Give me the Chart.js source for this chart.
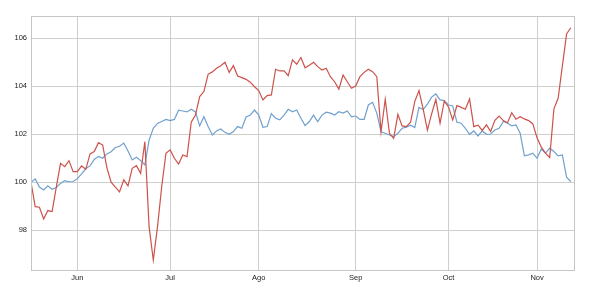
<!DOCTYPE html>
<html>
<head>
<meta charset="utf-8">
<script src="https://cdn.jsdelivr.net/npm/chart.js@4/dist/chart.umd.min.js"></script>
<style>
  html, body { margin: 0; padding: 0; background: #ffffff; }
  #wrap { width: 616px; height: 293px; }
</style>
</head>
<body>
<div id="wrap"><canvas id="c" width="616" height="293"></canvas></div>
<script>
// Month tick labels and the trading-day index where each month starts
const monthLabels = ['Jun', 'Jul', 'Ago', 'Sep', 'Oct', 'Nov'];
const monthIndex  = [11, 33, 54, 77, 99, 120];

// Y-axis tick values
const yTicks = [98, 100, 102, 104, 106];

// Series (one value per trading day)
const redSeries = [
  100.0, 98.98, 98.96, 98.47, 98.82, 98.78, 99.8, 100.79, 100.65, 100.9,
  100.44, 100.44, 100.68, 100.54, 101.18, 101.28, 101.65, 101.55, 100.6, 100.0,
  99.8, 99.6, 100.1, 99.85, 100.58, 100.69, 100.37, 101.69, 98.15, 96.76,
  98.15, 99.82, 101.21, 101.35, 101.0, 100.76, 101.14, 101.07, 102.5, 102.8,
  103.57, 103.78, 104.5, 104.6, 104.75, 104.86, 105.0, 104.58, 104.86, 104.43,
  104.36, 104.29, 104.17, 103.98, 103.82, 103.43, 103.61, 103.64, 104.71, 104.64,
  104.64, 104.44, 105.1, 104.92, 105.2, 104.77, 104.88, 105.0, 104.82, 104.68,
  104.75, 104.4, 104.19, 103.88, 104.47, 104.19, 103.92, 104.01, 104.4, 104.58,
  104.71, 104.61, 104.4, 102.1, 103.46, 102.04, 101.83, 102.83, 102.35, 102.32,
  102.5, 103.36, 103.82, 103.05, 102.17, 102.85, 103.45, 102.46, 103.38, 103.14,
  102.6, 103.2, 103.12, 103.04, 103.47, 102.32, 102.38, 102.16, 102.39, 102.12,
  102.58, 102.76, 102.57, 102.48, 102.9, 102.63, 102.73, 102.64, 102.57, 102.43,
  101.85, 101.46, 101.21, 101.03, 103.06, 103.5, 104.84, 106.18, 106.44
];

const blueSeries = [
  100.0, 100.14, 99.8, 99.68, 99.85, 99.71, 99.78, 99.95, 100.07, 100.02,
  100.03, 100.15, 100.35, 100.57, 100.68, 100.95, 101.08, 101.0, 101.18, 101.27,
  101.45, 101.5, 101.63, 101.3, 100.93, 101.04, 100.9, 100.72, 101.75, 102.25,
  102.45, 102.53, 102.62, 102.57, 102.62, 103.0, 102.97, 102.93, 103.04, 102.93,
  102.35, 102.73, 102.32, 101.97, 102.14, 102.22, 102.08, 102.0, 102.11, 102.32,
  102.25, 102.72, 102.8, 103.01, 102.8, 102.29, 102.32, 102.86, 102.67, 102.6,
  102.8, 103.04, 102.94, 103.01, 102.67, 102.36, 102.53, 102.8, 102.53, 102.8,
  102.92, 102.88, 102.8, 102.94, 102.88, 102.97, 102.73, 102.76, 102.62, 102.62,
  103.22, 103.33, 102.88, 102.1, 102.04, 101.97, 101.9, 102.04, 102.25, 102.3,
  102.38, 102.28, 103.12, 103.03, 103.26, 103.55, 103.68, 103.43, 103.4, 103.22,
  103.18, 102.5, 102.46, 102.25, 102.0, 102.14, 101.93, 102.14, 102.0, 102.01,
  102.18, 102.25, 102.53, 102.46, 102.35, 102.39, 102.04, 101.1, 101.14, 101.21,
  101.0, 101.38, 101.21, 101.42, 101.28, 101.1, 101.14, 100.21, 100.03
];

const GRID = '#cdcfcd';
const FRAME = '#c4c6c4';

const framePlugin = {
  id: 'frame',
  afterDraw(chart) {
    const a = chart.chartArea;
    const ctx = chart.ctx;
    ctx.save();
    ctx.strokeStyle = FRAME;
    ctx.lineWidth = 1;
    const l = Math.round(a.left) + 0.5, t = Math.round(a.top) + 0.5;
    const r = Math.round(a.right) - 0.5, b = Math.round(a.bottom) - 0.5;
    ctx.strokeRect(l, t, r - l, b - t);
    ctx.restore();
  }
};

const toPoints = arr => arr.map((v, i) => ({ x: i, y: v }));

new Chart(document.getElementById('c'), {
  type: 'line',
  data: {
    datasets: [
      { data: toPoints(blueSeries), borderColor: 'rgb(112,160,206)', borderWidth: 1.2, pointRadius: 0, tension: 0, order: 2 },
      { data: toPoints(redSeries), borderColor: 'rgb(204,82,76)', borderWidth: 1.2, pointRadius: 0, tension: 0, order: 1 }
    ]
  },
  options: {
    responsive: false,
    animation: false,
    events: [],
    layout: { padding: { left: 0, top: 16, right: 41, bottom: 0 } },
    plugins: { legend: { display: false }, tooltip: { enabled: false } },
    scales: {
      x: {
        type: 'linear',
        min: 0,
        max: 129,
        afterBuildTicks(scale) { scale.ticks = monthIndex.map(v => ({ value: v })); },
        afterFit(scale) { scale.height = 22; },
        grid: { color: GRID, lineWidth: 1, drawTicks: false },
        border: { display: false },
        ticks: {
          autoSkip: false,
          maxRotation: 0,
          padding: 2,
          color: '#222',
          font: { family: '"Liberation Sans", Arial, sans-serif', size: 7.5 },
          callback(value) {
            const k = monthIndex.indexOf(value);
            return k >= 0 ? monthLabels[k] : '';
          }
        }
      },
      y: {
        min: 96.3,
        max: 106.93,
        afterBuildTicks(scale) { scale.ticks = yTicks.map(v => ({ value: v })); },
        afterFit(scale) { scale.width = 31; },
        grid: { color: GRID, lineWidth: 1, drawTicks: false },
        border: { display: false },
        ticks: {
          padding: 4,
          color: '#222',
          font: { family: '"Liberation Sans", Arial, sans-serif', size: 7.5 },
          callback(value) { return String(value); }
        }
      }
    }
  },
  plugins: [framePlugin]
});
</script>
</body>
</html>
